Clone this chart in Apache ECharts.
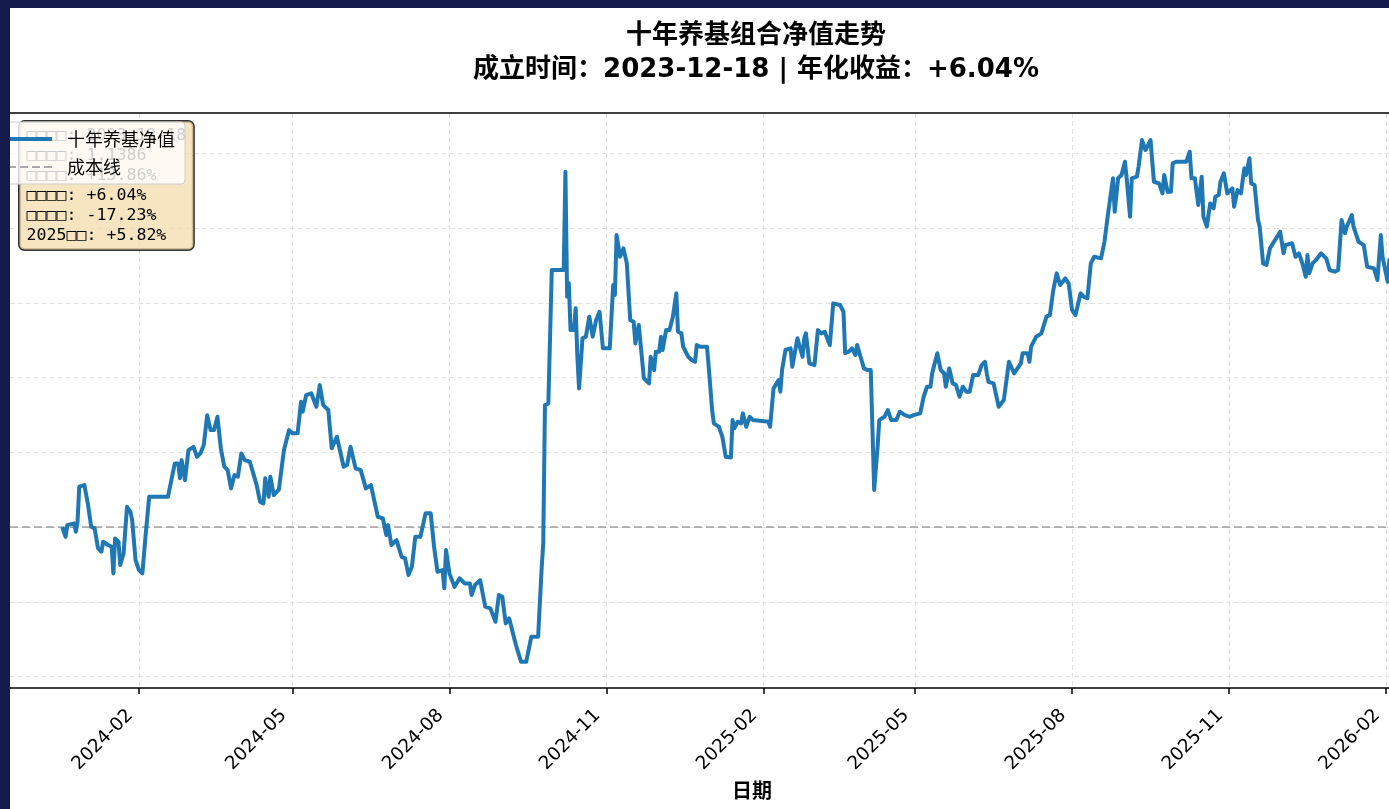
<!DOCTYPE html>
<html><head><meta charset="utf-8">
<script src="https://cdn.jsdelivr.net/npm/echarts@6/dist/echarts.min.js"></script>
<style>
html,body{margin:0;padding:0;background:#121b4a;width:1389px;height:809px;overflow:hidden;}
#chart{position:absolute;left:10px;top:8px;width:1379px;height:801px;background:#fff;}
</style></head><body><div id="chart"></div>
<script>
// ---- data ----
const inceptionDate = '2023-12-18';
const dayOffsets = [0,2,3,7,8,9,10,13,15,17,19,21,23,24,27,29,30,31,33,34,36,38,40,41,43,45,47,49,51,62,66,68,69,70,72,74,77,79,81,83,85,87,89,91,93,94,95,97,99,101,103,105,107,110,112,114,116,118,119,121,122,124,127,130,133,135,138,140,141,143,146,149,151,153,156,158,161,165,167,169,172,175,178,181,185,188,190,191,193,196,199,201,203,205,207,210,213,216,218,220,223,224,225,227,230,233,236,239,240,242,245,248,251,254,256,258,260,262,264,266,269,272,275,279,280,281,282,283,285,287,294,295,296,297,298,300,301,302,303,305,307,309,311,313,315,317,321,323,324,325,327,329,331,333,335,336,338,339,341,344,345,347,348,350,351,352,354,356,358,360,361,363,364,367,369,371,372,374,378,379,381,382,385,387,389,392,393,394,396,398,399,401,403,405,414,415,417,418,420,421,422,424,427,428,431,432,434,435,436,438,441,443,445,447,450,452,456,458,459,461,463,465,466,468,470,472,474,476,478,479,482,484,486,489,491,494,497,499,503,505,507,509,510,513,515,517,518,520,522,524,526,528,530,532,534,537,539,541,542,543,546,549,552,555,558,560,562,563,566,567,568,571,574,577,579,581,583,585,588,590,592,594,597,599,601,603,605,609,611,613,614,616,617,619,621,623,624,626,627,630,631,633,635,638,640,643,645,646,648,650,651,653,659,661,662,664,666,668,669,671,673,675,676,678,679,681,683,686,687,689,691,693,694,696,697,699,701,702,704,706,708,711,714,716,717,721,723,725,727,729,730,731,733,735,738,741,743,746,748,750,752,753,756,757,760,763,765,769,771,773,774,777,778,780];
const navValues = [1.0000,0.9935,1.0013,1.0025,0.9969,1.0035,1.0270,1.0281,1.0159,1.0002,0.9991,0.9857,0.9835,0.9902,0.9880,0.9868,0.9690,0.9924,0.9902,0.9746,0.9824,1.0136,1.0102,1.0047,0.9779,0.9712,0.9690,0.9958,1.0203,1.0203,1.0426,1.0426,1.0326,1.0448,1.0314,1.0515,1.0537,1.0470,1.0493,1.0549,1.0749,1.0649,1.0649,1.0738,1.0527,1.0537,1.0404,1.0381,1.0259,1.0348,1.0337,1.0493,1.0448,1.0437,1.0359,1.0281,1.0169,1.0159,1.0326,1.0203,1.0337,1.0214,1.0250,1.0515,1.0649,1.0627,1.0627,1.0839,1.0772,1.0883,1.0895,1.0805,1.0950,1.0816,1.0783,1.0527,1.0604,1.0404,1.0415,1.0537,1.0393,1.0381,1.0259,1.0281,1.0069,1.0058,0.9946,1.0013,0.9880,0.9913,0.9801,0.9791,0.9679,0.9734,0.9935,0.9935,1.0092,1.0092,0.9868,0.9701,0.9712,0.9590,0.9846,0.9690,0.9600,0.9657,0.9623,0.9623,0.9545,0.9612,0.9645,0.9467,0.9456,0.9366,0.9545,0.9534,0.9355,0.9389,0.9299,0.9210,0.9098,0.9098,0.9266,0.9266,0.9266,0.9712,0.9891,1.0816,1.0828,1.1720,1.1720,1.2378,1.1541,1.1631,1.1318,1.1318,1.1464,1.1140,1.0928,1.1263,1.1274,1.1408,1.1274,1.1385,1.1441,1.1196,1.1196,1.1620,1.1553,1.1954,1.1809,1.1865,1.1765,1.1385,1.1374,1.1229,1.1352,1.1341,1.0995,1.0962,1.1140,1.1051,1.1173,1.1173,1.1274,1.1185,1.1318,1.1318,1.1408,1.1564,1.1307,1.1296,1.1207,1.1140,1.1118,1.1106,1.1218,1.1207,1.1207,1.1073,1.0783,1.0694,1.0671,1.0604,1.0470,1.0466,1.0716,1.0661,1.0705,1.0694,1.0761,1.0671,1.0738,1.0716,1.0705,1.0671,1.0928,1.0939,1.0984,1.0906,1.1051,1.1185,1.1196,1.1073,1.1263,1.1274,1.1140,1.1263,1.1296,1.1096,1.1084,1.1318,1.1296,1.1307,1.1218,1.1497,1.1486,1.1441,1.1163,1.1173,1.1196,1.1151,1.1218,1.1140,1.1062,1.1051,1.1051,1.0248,1.0537,1.0716,1.0738,1.0783,1.0716,1.0716,1.0772,1.0749,1.0738,1.0749,1.0761,1.0872,1.0939,1.0939,1.1029,1.1163,1.1051,1.1029,1.0939,1.1062,1.0962,1.0950,1.0872,1.0939,1.0906,1.0906,1.1017,1.1017,1.1084,1.1106,1.1029,1.0972,1.0962,1.0805,1.0850,1.1106,1.1029,1.1062,1.1096,1.1163,1.1163,1.1106,1.1207,1.1274,1.1296,1.1408,1.1419,1.1586,1.1698,1.1620,1.1664,1.1631,1.1452,1.1419,1.1564,1.1541,1.1531,1.1765,1.1809,1.1798,1.1909,1.2088,1.2077,1.2334,1.2110,1.2334,1.2356,1.2445,1.2334,1.2077,1.2334,1.2345,1.2411,1.2590,1.2523,1.2590,1.2311,1.2300,1.2233,1.2356,1.2244,1.2244,1.2434,1.2445,1.2445,1.2512,1.2334,1.2334,1.2155,1.2345,1.2077,1.2010,1.2166,1.2133,1.2211,1.2222,1.2311,1.2367,1.2233,1.2267,1.2144,1.2255,1.2233,1.2401,1.2356,1.2468,1.2300,1.2289,1.2055,1.2010,1.1765,1.1754,1.1865,1.1921,1.1976,1.1832,1.1887,1.1899,1.1809,1.1832,1.1765,1.1675,1.1820,1.1698,1.1765,1.1787,1.1832,1.1798,1.1720,1.1709,1.1720,1.2055,1.1966,1.2010,1.2088,1.2010,1.1909,1.1887,1.1742,1.1731,1.1653,1.1954,1.1809,1.1642,1.1787,1.1720];
const costLevel = 1.0;
const xTickMonths = ['2024-02','2024-05','2024-08','2024-11','2025-02','2025-05','2025-08','2025-11','2026-02'];
const yGridValues = [0.90,0.95,1.00,1.05,1.10,1.15,1.20,1.25];
const seriesNames = ['十年养基净值','成本线'];
const titleLine1 = '十年养基组合净值走势';
const titleLine2 = '成立时间：2023-12-18 | 年化收益：+6.04%';
const xAxisName = '日期';
const infoLines = ['□□□□: 2023-12-18','□□□□: 1.1386','□□□□: +13.86%','□□□□: +6.04%','□□□□: -17.23%','2025□□: +5.82%'];

// ---- build ----
const DAY = 86400000;
const [iy, im, id] = inceptionDate.split('-').map(Number);
const t0 = new Date(iy, im - 1, id).getTime();
const navData = dayOffsets.map((d, i) => [t0 + d * DAY, navValues[i]]);
const xMin = t0 - 30.6 * DAY, xMax = t0 + 777.8 * DAY;
const tickTimes = xTickMonths.map(s => { const [y, m] = s.split('-').map(Number); return new Date(y, m - 1, 1).getTime(); });
const pad = n => (n < 10 ? '0' : '') + n;
const fmtMonth = v => { const d = new Date(v); return d.getFullYear() + '-' + pad(d.getMonth() + 1); };

const navStyle = {color: '#1f77b4', width: 4, join: 'round'};
const costStyle = {color: '#aaaaaa', width: 1.8, type: [8, 4]};
const gridLine = {show: true, lineStyle: {color: '#e2e2e2', type: [5, 3], width: 1}};
const chart = echarts.init(document.getElementById('chart'), null, {renderer: 'canvas'});
chart.setOption({
  animation: false,
  backgroundColor: '#ffffff',
  title: [
    {text: titleLine1, left: 741, top: 10, textAlign: 'center',
     textStyle: {fontSize: 26, fontWeight: 'bold', color: '#000', fontFamily: 'DejaVu Sans, Noto Sans CJK SC'}},
    {text: titleLine2, left: 741, top: 44, textAlign: 'center',
     textStyle: {fontSize: 26, fontWeight: 'bold', color: '#000', fontFamily: 'DejaVu Sans, Noto Sans CJK SC'}}
  ],
  grid: {left: 0, right: 0, top: 105, bottom: 121, containLabel: false, outerBoundsMode: 'none'},
  xAxis: [
    {type: 'value', min: xMin, max: xMax, position: 'bottom', scale: true,
     axisLine: {show: true, onZero: false, lineStyle: {color: '#000', width: 1.5}},
     axisTick: {show: true, customValues: tickTimes, length: 6, lineStyle: {color: '#000', width: 1.5}},
     axisLabel: {customValues: tickTimes, rotate: 45, formatter: v => fmtMonth(v), fontSize: 18.5,
                 fontFamily: 'DejaVu Sans', color: '#000', margin: 29, verticalAlign: 'bottom', padding: [0, 3, 0, 0]},
     splitLine: gridLine,
     name: xAxisName, nameLocation: 'middle', nameGap: 90,
     nameTextStyle: {fontSize: 20, fontWeight: 'bold', color: '#000', fontFamily: 'Noto Sans CJK SC', padding: [0, 0, 0, 105]}},
    {type: 'value', min: xMin, max: xMax, position: 'top', scale: true,
     axisLine: {show: true, onZero: false, lineStyle: {color: '#000', width: 1.5}},
     axisTick: {show: false}, axisLabel: {show: false}, splitLine: {show: false}}
  ],
  yAxis: {type: 'value', min: 0.8923, max: 1.2771, scale: true,
    axisLine: {show: false}, axisTick: {show: false, customValues: yGridValues},
    axisLabel: {show: false, customValues: yGridValues}, splitLine: gridLine},
  legend: {data: [{name: seriesNames[0], lineStyle: navStyle}, {name: seriesNames[1], lineStyle: costStyle}],
    orient: 'vertical', left: -12, top: 114, padding: [7, 10, 7, 8],
    itemWidth: 44, itemHeight: 14, itemGap: 8, z: 10,
    itemStyle: {opacity: 0},
    backgroundColor: 'rgba(255,255,255,0.8)', borderColor: '#cccccc', borderWidth: 1, borderRadius: 4,
    textStyle: {fontSize: 18, color: '#000', fontFamily: 'Noto Sans CJK SC', lineHeight: 20, padding: [0, 0, 0, 10]}},
  graphic: [{type: 'text', left: 8, top: 112, z: 5,
    style: {text: infoLines.join('\n'), font: '16.6px "DejaVu Sans Mono"', fill: '#000', lineHeight: 20,
      backgroundColor: 'rgba(245,222,179,0.8)', borderColor: '#333333', borderWidth: 1.5, borderRadius: 5,
      padding: [4, 7, 4, 7]}}],
  series: [
    {name: seriesNames[0], type: 'line', data: navData, symbol: 'none', showSymbol: false, clip: true, z: 3,
     lineStyle: navStyle, itemStyle: {color: '#1f77b4'}},
    {name: seriesNames[1], type: 'line', data: [[xMin, costLevel], [xMax, costLevel]], symbol: 'none', clip: true, z: 2,
     lineStyle: costStyle, itemStyle: {color: '#aaaaaa'}}
  ]
});
</script></body></html>
